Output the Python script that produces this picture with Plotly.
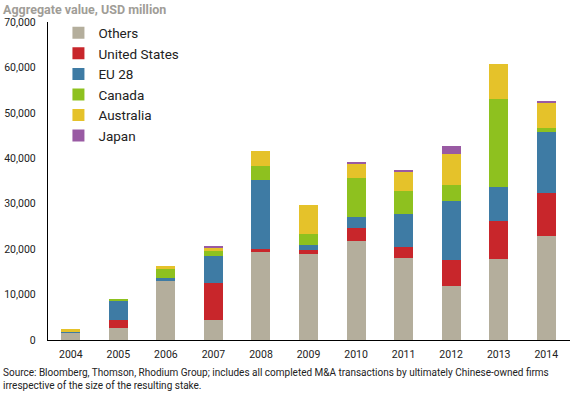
import plotly.graph_objects as go

years = ["2004", "2005", "2006", "2007", "2008", "2009", "2010", "2011", "2012", "2013", "2014"]
others = [1550, 2700, 12950, 4300, 19270, 18830, 21700, 18100, 11940, 17880, 22800]
united_states = [0, 1750, 0, 8300, 800, 1030, 3010, 2340, 5570, 8370, 9470]
eu28 = [250, 4250, 600, 5860, 15050, 1020, 2340, 7270, 13000, 7410, 13430]
canada = [0, 200, 2130, 1040, 3150, 2420, 8520, 5070, 3590, 19310, 1040]
australia = [700, 0, 580, 800, 3240, 6320, 3370, 4270, 6910, 7710, 5640]
japan = [0, 0, 0, 450, 0, 0, 220, 220, 1610, 0, 150]

series = [
    ("Others", others, "#B4AE9C"),
    ("United States", united_states, "#C8262B"),
    ("EU 28", eu28, "#3E7BA4"),
    ("Canada", canada, "#8EC11F"),
    ("Australia", australia, "#E5C22A"),
    ("Japan", japan, "#995AA3"),
]

FONT = "Roboto, Liberation Sans, sans-serif"

fig = go.Figure()
for name, vals, color in series:
    fig.add_trace(go.Bar(x=years, y=vals, name=name, marker=dict(color=color, line=dict(width=0)),
                         width=0.4))

fig.update_layout(
    width=573, height=398,
    barmode="stack",
    plot_bgcolor="white", paper_bgcolor="white",
    margin=dict(l=48, r=3, t=22, b=58),
    font=dict(family=FONT, size=10.5, color="#222222"),
    showlegend=True,
    legend=dict(x=0.02, y=1.014, xanchor="left", yanchor="top", traceorder="normal",
                font=dict(size=13.5, color="#222222"), bgcolor="rgba(0,0,0,0)",
                tracegroupgap=0),
    xaxis=dict(type="category", range=[-0.48, 10.5], showline=True, linecolor="black",
               linewidth=1.3, ticks="", showgrid=False, tickfont=dict(size=10.5),
               ticklabelstandoff=4, automargin=False),
    yaxis=dict(range=[0, 70000], dtick=10000, tickformat=",", showline=True, linecolor="black",
               linewidth=1.3, ticks="", showgrid=False, zeroline=False, tickfont=dict(size=10.5),
               ticklabelstandoff=9, automargin=False),
    annotations=[
        dict(text="<b>Aggregate value, USD million</b>", x=0, y=1, xref="paper", yref="paper",
             xanchor="left", yanchor="top", showarrow=False, xshift=-47, yshift=22,
             font=dict(size=12.5, color="#A09D97", family=FONT)),
        dict(text="Source: Bloomberg, Thomson, Rhodium Group; includes all completed M&A transactions by ultimately Chinese-owned firms<br>irrespective of the size of the resulting stake.",
             x=0, y=0, xref="paper", yref="paper", xanchor="left", yanchor="top", align="left",
             showarrow=False, xshift=-47, yshift=-25, font=dict(size=10, color="#222222", family=FONT)),
    ],
)

fig.write_html("out.html", config={"displayModeBar": False},
               post_script="document.body.style.margin='0';")
